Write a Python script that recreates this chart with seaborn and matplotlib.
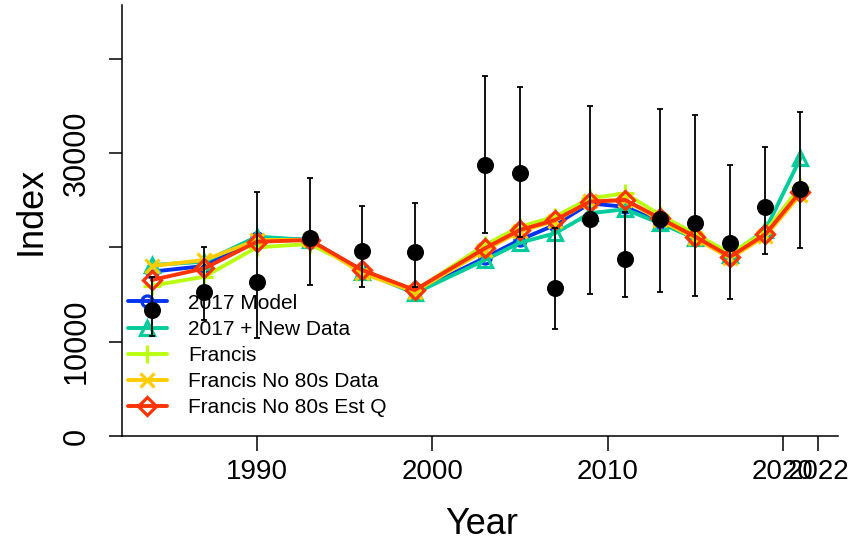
import numpy as np
import pandas as pd
import matplotlib
matplotlib.use("Agg")
import matplotlib.pyplot as plt
import seaborn as sns

# survey years and observed index with lognormal CIs
years = [1984, 1987, 1990, 1993, 1996, 1999, 2003, 2005, 2007, 2009,
         2011, 2013, 2015, 2017, 2019, 2021]
obs = [13360, 15300, 16360, 20960, 19620, 19550, 28740, 27860, 15730, 22980,
       18740, 22980, 22620, 20430, 24320, 26160]
obs_lo = [10600, 12300, 10360, 16010, 15770, 15800, 21560, 21140, 11310, 15030,
          14770, 15240, 14880, 14490, 19270, 19940]
obs_hi = [16890, 20040, 25900, 27400, 24420, 24740, 38180, 37040, 22020, 35030,
          23720, 34710, 34000, 28770, 30610, 34330]

# expected index from each model run
model_2017 = [17420, 18030, 21000, 20800, 17500, 15250, 18900, 20800, 22380, 24670,
              24300, 22700, 21000, 19150, 21500, 25900]
model_new = [18130, 18480, 21140, 20780, 17420, 15130, 18660, 20500, 21490, 23620,
             24040, 22550, 20960, 19190, 21850, 29450]
francis = [15940, 16890, 20010, 20360, 17600, 15400, 20250, 22190, 23260, 25200,
           25730, 23440, 21420, 19370, 21670, 26440]
francis_no80 = [18030, 18660, 20780, 20800, 17250, 15300, 19700, 21700, 22800, 24900,
                25000, 22900, 20950, 18850, 21200, 25600]
francis_estq = [16540, 17780, 20600, 20780, 17600, 15480, 19900, 21850, 22900, 24850,
                25030, 23080, 21140, 19020, 21390, 25910]

labels = ["2017 Model", "2017 + New Data", "Francis", "Francis No 80s Data",
          "Francis No 80s Est Q"]
colors = ["#0033F1", "#00CC9B", "#BAFF11", "#FFCC00", "#FF3300"]
markers = ["o", "^", "+", "x", "D"]
msizes = [8, 10, 13, 10, 9]

sns.set_theme(style="ticks")
plt.rcParams["font.family"] = ["Liberation Sans", "DejaVu Sans"]
plt.rcParams.update({"text.color": "black", "axes.labelcolor": "black",
                     "xtick.color": "black", "ytick.color": "black"})

fig = plt.figure(figsize=(8.5, 5.45), dpi=100)
ax = fig.add_axes([0.1435, 0.2, 0.8425, 0.7908])

series = [model_2017, model_new, francis, francis_no80, francis_estq]
for vals, lab, col, mk, ms in zip(series, labels, colors, markers, msizes):
    df = pd.DataFrame({"Year": years, "Index": vals})
    sns.lineplot(data=df, x="Year", y="Index", ax=ax, color=col, lw=2.8,
                 marker=mk, ms=ms, mfc="none", mec=col, mew=2.3, label=lab,
                 zorder=2)

obs = np.array(obs)
yerr = [obs - np.array(obs_lo), np.array(obs_hi) - obs]
ax.errorbar(years, obs, yerr=yerr, fmt="none", ecolor="black", elinewidth=1.3,
            capsize=2, capthick=1.3, zorder=4)
sns.scatterplot(x=years, y=obs, ax=ax, color="black", s=150, edgecolor="black",
                linewidth=0, zorder=5)

ax.set_xlim(1982.3, 2023.15)
ax.set_ylim(0, 45700)
ax.set_xticks([1990, 2000, 2010, 2020, 2022])
ax.set_xticklabels(["1990", "2000", "2010", "2020", "2022"])
ax.set_yticks([0, 10000, 20000, 30000, 40000])
ax.set_yticklabels(["0", "10000", "", "30000", ""], rotation=90, va="center")
ax.tick_params(axis="x", length=10.5, width=1.1, labelsize=20, pad=6)
ax.tick_params(axis="y", length=9.5, width=1.1, labelsize=22, pad=12)
for s in ["top", "right"]:
    ax.spines[s].set_visible(False)
for s in ["left", "bottom"]:
    ax.spines[s].set_color("black")
    ax.spines[s].set_linewidth(1.1)

ax.set_xlabel("Year", fontsize=26)
ax.set_ylabel("Index", fontsize=26)
ax.xaxis.set_label_coords(0.503, -0.165)
ax.yaxis.set_label_coords(-0.103, 0.522)

leg = ax.legend(loc="upper left", bbox_to_anchor=(0.008, 0.33), frameon=False,
                fontsize=15, handlelength=1.9, handletextpad=1.0,
                labelspacing=0.34, borderpad=0, borderaxespad=0)
leg.set_zorder(3)

fig.savefig("out.png", dpi=100)
